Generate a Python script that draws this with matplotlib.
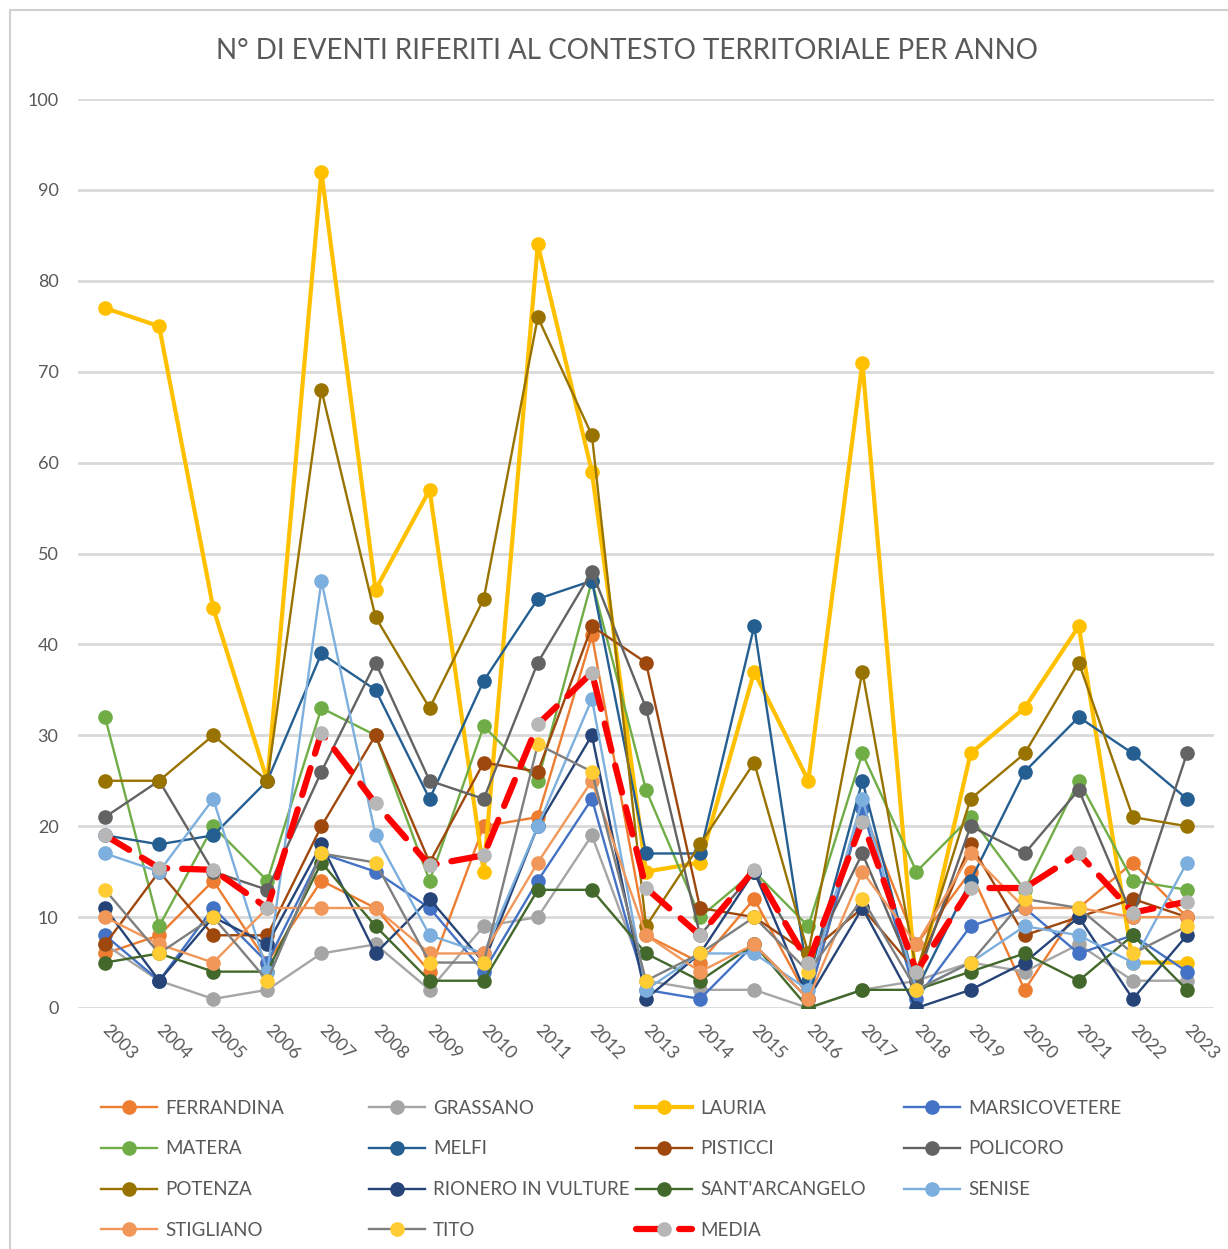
import matplotlib
matplotlib.use("Agg")

import matplotlib.pyplot as plt
from matplotlib.patches import Rectangle

plt.rcParams["font.family"] = ["Lato", "DejaVu Sans"]

YEARS = list(range(2003, 2024))

FERRANDINA = [6, 8, 14, 5, 14, 11, 4, 20, 21, 41, 8, 5, 12, 1, 22, 7, 15, 2, 11, 16, 10]
GRASSANO = [7, 3, 1, 2, 6, 7, 2, 9, 10, 19, 3, 2, 2, 0, 2, 3, 5, 4, 7, 3, 3]
LAURIA = [77, 75, 44, 25, 92, 46, 57, 15, 84, 59, 15, 16, 37, 25, 71, 2, 28, 33, 42, 5, 5]
MARSICOVETERE = [8, 3, 11, 5, 17, 15, 11, 4, 14, 23, 2, 1, 7, 1, 22, 1, 9, 11, 6, 8, 4]
MATERA = [32, 9, 20, 14, 33, 30, 14, 31, 25, 47, 24, 10, 15, 9, 28, 15, 21, 13, 25, 14, 13]
MELFI = [19, 18, 19, 25, 39, 35, 23, 36, 45, 47, 17, 17, 42, 3, 25, 2, 14, 26, 32, 28, 23]
PISTICCI = [7, 15, 8, 8, 20, 30, 16, 27, 26, 42, 38, 11, 10, 6, 11, 4, 18, 8, 10, 12, 10]
POLICORO = [21, 25, 15, 13, 26, 38, 25, 23, 38, 48, 33, 8, 15, 5, 17, 3, 20, 17, 24, 10, 28]
POTENZA = [25, 25, 30, 25, 68, 43, 33, 45, 76, 63, 9, 18, 27, 6, 37, 4, 23, 28, 38, 21, 20]
RIONERO = [11, 3, 10, 7, 18, 6, 12, 5, 20, 30, 1, 6, 15, 1, 11, 0, 2, 5, 10, 1, 8]
SANTARCANGELO = [5, 6, 4, 4, 16, 9, 3, 3, 13, 13, 6, 3, 7, 0, 2, 2, 4, 6, 3, 8, 2]
SENISE = [17, 15, 23, 4, 47, 19, 8, 6, 20, 34, 2, 6, 6, 2, 23, 2, 5, 9, 8, 5, 16]
STIGLIANO = [10, 7, 5, 11, 11, 11, 6, 6, 16, 25, 8, 4, 7, 1, 15, 7, 17, 11, 11, 10, 10]
TITO = [13, 6, 10, 3, 17, 16, 5, 5, 29, 26, 3, 6, 10, 4, 12, 2, 5, 12, 11, 6, 9]
MEDIA = [19, 15.4, 15.2, 11, 30.3, 22.5, 15.7, 16.8, 31.2, 36.9, 13.2, 8, 15.2, 5,
         20.5, 4, 13.2, 13.2, 17, 10.5, 11.7]

# (label, values, line colour, marker colour, line width)
SERIES = [
    ("FERRANDINA", FERRANDINA, "#ED7D31", "#ED7D31", 1.7),
    ("GRASSANO", GRASSANO, "#A5A5A5", "#A5A5A5", 1.7),
    ("LAURIA", LAURIA, "#FFC000", "#FFC000", 3.0),
    ("MARSICOVETERE", MARSICOVETERE, "#4472C4", "#4472C4", 1.7),
    ("MATERA", MATERA, "#70AD47", "#70AD47", 1.7),
    ("MELFI", MELFI, "#255E91", "#255E91", 1.7),
    ("PISTICCI", PISTICCI, "#9E480E", "#9E480E", 1.7),
    ("POLICORO", POLICORO, "#636363", "#636363", 1.7),
    ("POTENZA", POTENZA, "#997300", "#997300", 1.7),
    ("RIONERO IN VULTURE", RIONERO, "#264478", "#264478", 1.7),
    ("SANT'ARCANGELO", SANTARCANGELO, "#43682B", "#43682B", 1.7),
    ("SENISE", SENISE, "#7CAFDD", "#7CAFDD", 1.7),
    ("STIGLIANO", STIGLIANO, "#F1975A", "#F1975A", 1.7),
    ("TITO", TITO, "#7F7F7F", "#FFCD33", 1.7),
]

TEXT = "#595959"
GRID = "#D9D9D9"

fig = plt.figure(figsize=(12.28, 12.49), dpi=100)
fig.patches.append(Rectangle((10 / 1228, -0.01), 1.2, 1 - 10 / 1249 + 0.01,
                             transform=fig.transFigure, fill=False,
                             edgecolor="#D0D0D0", linewidth=1.5))
ax = fig.add_axes([78 / 1228, 1 - 1008 / 1249, (1214 - 78) / 1228, (1008 - 99) / 1249])

handles = []
for label, vals, lc, mc, lw in SERIES:
    h, = ax.plot(YEARS, vals, color=lc, linewidth=lw, marker="o", markersize=9.5,
                 markerfacecolor=mc, markeredgecolor=mc, label=label, zorder=3)
    handles.append(h)

h, = ax.plot(YEARS, MEDIA, color="#FF0000", linewidth=4.5, linestyle=(0, (4.5, 2.4)),
             dash_capstyle="round", marker="o", markersize=9.5,
             markerfacecolor="#B7B7B7", markeredgecolor="#B7B7B7", label="MEDIA", zorder=4)
handles.append(h)

ax.set_xlim(2002.5, 2023.5)
ax.set_ylim(0, 100)
ax.set_yticks(range(0, 101, 10))
ax.set_xticks(YEARS)
ax.set_xticklabels([str(y) for y in YEARS], rotation=-45, ha="left", va="center",
                   rotation_mode="anchor")
ax.tick_params(axis="both", length=0, labelsize=13, colors=TEXT)
ax.tick_params(axis="y", pad=14)
ax.tick_params(axis="x", pad=14)
ax.grid(axis="y", color=GRID, linewidth=2)
ax.set_axisbelow(True)
for s in ax.spines.values():
    s.set_visible(False)

fig.text(627 / 1228, 1 - 51 / 1249, "N° DI EVENTI RIFERITI AL CONTESTO TERRITORIALE PER ANNO",
         ha="center", va="center", fontsize=20, color=TEXT)

# legend laid out row by row, four columns
col_x = [93, 361, 628, 896]
for c, x in enumerate(col_x):
    fig.legend(handles=handles[c::4], loc="upper left",
               bbox_to_anchor=(x / 1228, 1 - 1092 / 1249), frameon=False,
               fontsize=13.5, labelcolor=TEXT, handlelength=3.0,
               handletextpad=0.45, labelspacing=1.27, borderaxespad=0)

fig.savefig("out.png", dpi=100)
